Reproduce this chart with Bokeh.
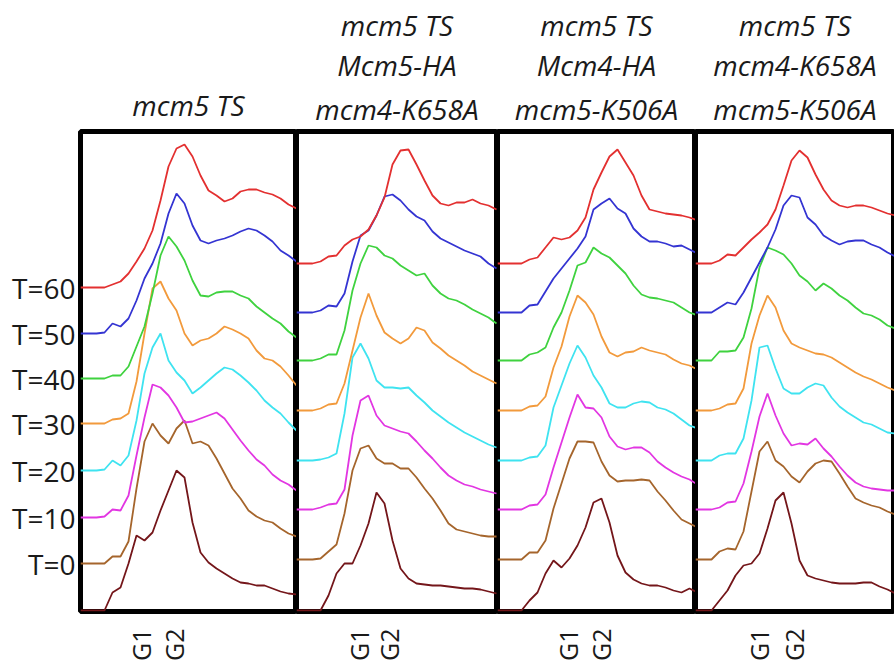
from math import pi
from bokeh.plotting import figure
from bokeh.models import Range1d, FixedTicker, Title
from bokeh.layouts import row
from bokeh.embed import file_html
from bokeh.resources import INLINE

FONT = "Open Sans"

# ---------------- data ----------------
# DNA-content channel grid (one per panel width)
channels_p1 = list(range(0, 217, 8))
channels_p2 = list(range(0, 201, 8))
channels_p3 = list(range(0, 201, 8))
channels_p4 = list(range(0, 201, 8))

panel_titles = [
    ["mcm5 TS"],
    ["mcm5 TS", "Mcm5-HA", "mcm4-K658A"],
    ["mcm5 TS", "Mcm4-HA", "mcm5-K506A"],
    ["mcm5 TS", "mcm4-K658A", "mcm5-K506A"],
]
time_labels = ["T=0", "T=10", "T=20", "T=30", "T=40", "T=50", "T=60"]
phase_labels = ["G1", "G2"]

# panel 1: mcm5 TS
p1_ctrl = [0,0,0,0,18,23,47,75,70,78,100,120,140,133,88,58,48,42,37,32,28,27,25,25,22,19,17,16]
p1_t0   = [0,0,0,0,7,7,22,75,122,140,128,120,135,143,120,122,118,105,90,75,65,53,47,43,41,35,30,27]
p1_t10  = [0,0,0,1,8,7,22,62,100,133,130,122,110,95,96,99,102,105,99,88,77,67,58,52,43,37,33,27]
p1_t20  = [0,0,0,1,10,5,15,50,97,123,137,110,98,90,77,83,90,97,103,101,95,88,80,70,63,57,48,40]
p1_t30  = [0,0,0,0,4,5,10,42,90,135,142,125,113,90,78,83,85,90,97,94,90,85,73,65,63,57,48,38]
p1_t40  = [0,0,0,0,3,3,12,32,52,85,123,142,132,118,98,83,82,86,87,87,83,80,72,66,60,55,47,41]
p1_t50  = [0,0,0,1,10,7,15,33,55,70,90,120,140,130,108,93,90,93,95,98,102,105,103,98,92,83,78,72]
p1_t60  = [0,0,0,0,3,6,14,26,39,57,87,121,139,143,131,112,97,92,86,89,96,98,98,95,93,89,83,79]

# panel 2: mcm5 TS Mcm5-HA mcm4-K658A
p2_ctrl = [0,0,0,0,15,37,47,47,65,87,118,107,70,42,32,27,26,25,25,24,23,22,22,21,19,17]
p2_t0   = [0,0,0,1,8,15,46,89,111,114,101,96,96,91,91,82,71,61,49,36,30,28,26,24,23,23]
p2_t10  = [0,0,0,2,5,6,20,74,109,114,94,84,81,78,76,68,59,51,42,34,29,25,23,20,18,16]
p2_t20  = [0,0,0,1,3,7,47,103,117,102,80,73,73,72,73,65,58,50,44,38,33,28,24,20,16,13]
p2_t30  = [0,0,0,2,6,7,27,60,93,117,95,78,72,67,72,83,80,68,62,55,50,45,39,35,31,27]
p2_t40  = [0,0,0,2,6,6,30,70,97,115,113,105,102,95,90,85,87,75,67,62,60,56,51,47,43,37]
p2_t50  = [0,0,0,2,7,6,19,51,77,82,97,116,118,112,103,96,92,81,74,70,66,62,59,56,49,44]
p2_t60  = [0,0,0,2,7,8,18,24,27,34,48,66,99,113,114,99,83,68,60,58,61,61,64,60,58,54]

# panel 3: mcm5 TS Mcm4-HA mcm5-K506A
p3_ctrl = [0,0,0,0,10,18,37,50,43,52,65,83,108,112,88,55,38,31,27,25,25,23,20,18,22,18]
p3_t0   = [0,0,0,0,7,7,19,51,76,101,118,118,117,98,84,78,79,79,80,79,68,59,49,40,36,32]
p3_t10  = [0,0,0,0,4,5,15,42,67,92,115,102,101,92,73,63,60,62,62,57,48,42,37,33,30,25]
p3_t20  = [0,0,0,0,3,4,15,53,75,97,115,103,85,73,57,53,53,57,59,58,53,51,47,41,35,32]
p3_t30  = [0,0,0,0,4,5,14,43,64,94,115,108,96,74,58,54,58,59,63,60,58,56,51,47,45,41]
p3_t40  = [0,0,0,0,6,8,13,33,48,70,95,98,113,107,103,95,87,75,66,63,62,60,58,53,48,45]
p3_t50  = [0,0,0,0,7,8,21,34,44,54,64,76,103,109,114,104,99,84,76,71,71,69,66,67,63,59]
p3_t60  = [0,0,0,0,4,6,16,26,24,26,33,46,74,91,107,114,101,88,68,54,52,50,49,48,46,43]

# panel 4: mcm5 TS mcm4-K658A mcm5-K506A
p4_ctrl = [0,0,0,10,20,35,45,47,57,82,110,118,87,50,35,32,30,28,27,27,27,28,28,24,21,17]
p4_t0   = [0,0,0,8,11,10,28,68,108,118,99,93,83,77,88,96,99,98,86,73,61,57,54,52,48,45]
p4_t10  = [0,0,0,2,7,8,26,58,93,116,94,76,64,66,65,71,61,53,43,34,27,23,21,20,19,19]
p4_t20  = [0,0,0,5,7,7,22,60,113,115,92,72,67,67,73,77,75,63,54,48,43,38,36,32,28,27]
p4_t30  = [0,0,0,2,6,7,22,67,95,115,103,80,67,63,60,57,56,53,48,43,38,34,31,27,23,20]
p4_t40  = [0,0,0,9,9,10,23,52,93,113,110,106,97,85,79,70,77,72,65,60,53,47,45,41,35,32]
p4_t50  = [0,0,0,5,10,8,20,35,50,65,83,107,117,115,95,88,77,72,68,71,72,72,68,65,60,56]
p4_t60  = [0,0,0,3,9,8,16,24,31,39,54,78,103,113,106,89,74,63,58,56,58,58,56,53,50,48]

# G1 / G2 peak positions (channel) per panel
p1_phase = [60, 93]
p2_phase = [62, 92]
p3_phase = [70, 103]
p4_phase = [63, 98]

# ---------------- styling / layout ----------------
colors = ["#74161a", "#a5652c", "#e236e2", "#3fe3f0", "#f29a3c", "#3fd23f", "#3434d2", "#e33030"]
offsets_p1 = [1, 48, 94, 141, 188, 233, 278, 324]
offsets_rest = [1, 52, 102, 151, 201, 251, 299, 348]
FRAME_H = 480

panels = [
    (panel_titles[0], 216, channels_p1, [p1_ctrl, p1_t0, p1_t10, p1_t20, p1_t30, p1_t40, p1_t50, p1_t60], offsets_p1, p1_phase),
    (panel_titles[1], 201, channels_p2, [p2_ctrl, p2_t0, p2_t10, p2_t20, p2_t30, p2_t40, p2_t50, p2_t60], offsets_rest, p2_phase),
    (panel_titles[2], 198, channels_p3, [p3_ctrl, p3_t0, p3_t10, p3_t20, p3_t30, p3_t40, p3_t50, p3_t60], offsets_rest, p3_phase),
    (panel_titles[3], 199, channels_p4, [p4_ctrl, p4_t0, p4_t10, p4_t20, p4_t30, p4_t40, p4_t50, p4_t60], offsets_rest, p4_phase),
]

figs = []
for i, (title_lines, fw, xs, curves, offs, phase) in enumerate(panels):
    first = i == 0
    p = figure(frame_width=fw, frame_height=FRAME_H,
               x_range=Range1d(0, fw), y_range=Range1d(0, FRAME_H),
               output_backend="svg", toolbar_location=None,
               min_border_top=131, min_border_bottom=54,
               min_border_left=80 if first else 0, min_border_right=0,
               y_axis_location="left" if first else None,
               background_fill_color="white", border_fill_color="white")
    # title lines: the one added first sits closest to the frame
    for j, line in enumerate(reversed(title_lines)):
        if j == 0:
            so = 16 if len(title_lines) == 1 else 8
        else:
            so = 0
        p.add_layout(Title(text=line, text_font=FONT, text_font_style="italic",
                           text_font_size="28px", text_color="#1a1a1a",
                           align="center", standoff=so), "above")
    p.outline_line_color = "black"
    p.outline_line_width = 5
    p.xgrid.visible = False
    p.ygrid.visible = False
    for curve, off, col in zip(curves, offs, colors):
        p.line(xs, [off + v for v in curve], line_color=col, line_width=1.8)

    xa = p.xaxis[0]
    xa.ticker = FixedTicker(ticks=phase)
    xa.major_label_overrides = {phase[0]: phase_labels[0], phase[1]: phase_labels[1]}
    xa.major_label_orientation = pi / 2
    xa.major_label_text_font = FONT
    xa.major_label_text_font_size = "25px"
    xa.major_label_text_color = "#1a1a1a"
    xa.major_tick_out = 0
    xa.major_tick_in = 0
    xa.major_label_standoff = 17
    xa.axis_line_color = None
    xa.major_tick_line_color = None
    xa.minor_tick_line_color = None

    if first:
        ya = p.yaxis[0]
        ticks = offs[1:]
        ya.ticker = FixedTicker(ticks=ticks)
        ya.major_label_overrides = {t: lab for t, lab in zip(ticks, time_labels)}
        ya.major_label_text_font = FONT
        ya.major_label_text_font_size = "28px"
        ya.major_label_text_color = "#1a1a1a"
        ya.major_tick_out = 0
        ya.major_tick_in = 0
        ya.major_label_standoff = 5
        ya.axis_line_color = None
        ya.major_tick_line_color = None
        ya.minor_tick_line_color = None
    figs.append(p)

layout = row(*figs, spacing=0)
open("out.html", "w").write(file_html(layout, INLINE))
